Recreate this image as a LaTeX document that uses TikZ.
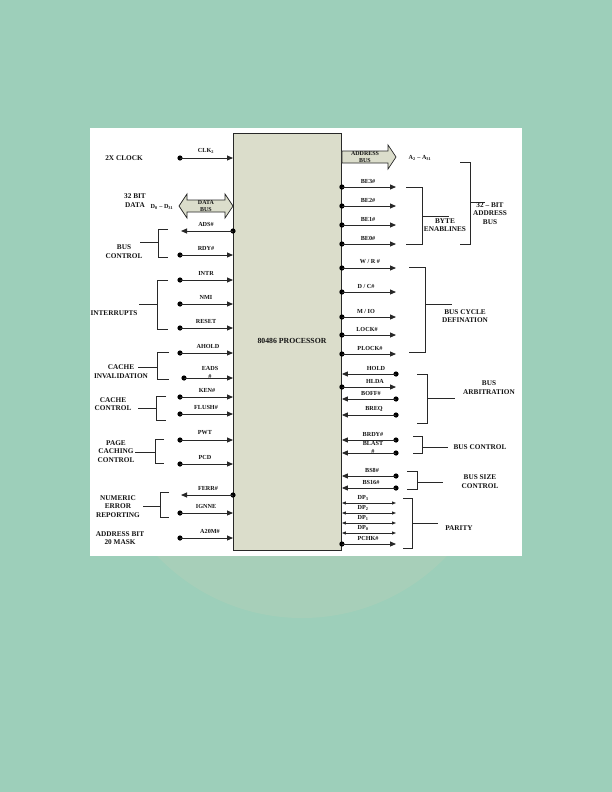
\documentclass[tikz,border=0pt]{standalone}
\usepackage{fontspec}
\setmainfont{Liberation Serif}
\usetikzlibrary{arrows.meta}
\definecolor{bgc}{RGB}{157,207,186}
\definecolor{wmc}{RGB}{167,207,185}
\definecolor{procc}{RGB}{219,221,203}
\definecolor{linec}{RGB}{40,40,40}
\definecolor{textc}{RGB}{20,20,20}
\tikzset{
  lab/.style={font=\fontsize{6.2}{6.5}\selectfont\bfseries, inner sep=0pt, text=textc},
  grp/.style={font=\fontsize{7.3}{8.5}\selectfont\bfseries, align=center, inner sep=0pt, text=textc},
  sig/.style={draw=linec, line width=0.9bp, -{Triangle[length=6bp,width=5bp]}},
  dsig/.style={draw=linec, line width=0.9bp, {Triangle[length=4bp,width=3bp]}-{Triangle[length=4bp,width=3bp]}},
  brk/.style={draw=linec, line width=0.9bp},
  pin/.style={fill=black},
  busarrow/.style={draw=linec, fill=procc, line width=0.7bp}
}
% left input pin: y, name, label, label x
\newcommand\inL[4]{%
  \coordinate (#2) at (180,#1);
  \fill[pin] (#2) circle[radius=2.6bp];
  \draw[sig] (#2) -- (#2 -| P.west);
  \node[lab] (#2l) at (#4,#1-7) {#3};}
% left output pin
\newcommand\outL[4]{%
  \coordinate (#2) at (181,#1);
  \fill[pin] (#2 -| P.west) circle[radius=2.6bp];
  \draw[sig] (#2 -| P.west) -- (#2);
  \node[lab] (#2l) at (#4,#1-7) {#3};}
% right output pin
\newcommand\outR[4]{%
  \coordinate (#2) at (396,#1);
  \fill[pin] (P.east |- #2) circle[radius=2.6bp];
  \draw[sig] (P.east |- #2) -- (#2);
  \node[lab] (#2l) at (#4,#1-6) {#3};}
% right input pin
\newcommand\inR[4]{%
  \coordinate (#2) at (396,#1);
  \fill[pin] (#2) circle[radius=2.6bp];
  \draw[sig] (#2) -- (P.east |- #2);
  \node[lab] (#2l) at (#4,#1-6) {#3};}
% bracket: x vertical, y top, y bottom, x tick end, y mid, x horizontal end
\newcommand\grpbracket[6]{%
  \draw[brk] (#4,#2) -- (#1,#2) -- (#1,#3) -- (#4,#3);
  \draw[brk] (#1,#5) -- (#6,#5);}
\begin{document}
\begin{tikzpicture}[x=1bp,y=-1bp]
\useasboundingbox (0,0) rectangle (612,792);
\fill[bgc] (0,0) rectangle (612,792);
\fill[wmc] (302,418) circle[radius=200bp];
\fill[white] (90,128) rectangle (522,556);

% processor
\node[draw=linec, line width=0.9bp, fill=procc, minimum width=108bp, minimum height=417bp, anchor=north west, inner sep=0pt] (P) at (233,133) {};
\node[font=\fontsize{7.8}{8}\selectfont\bfseries, text=textc] (Pl) at (292,341) {80486 PROCESSOR};

% data bus double arrow
\coordinate (dbL) at (179,206);
\filldraw[busarrow] (dbL) -- (187,194) -- (187,200) -- (225,200) -- (225,194) -- (P.west |- dbL) -- (225,218) -- (225,212) -- (187,212) -- (187,218) -- cycle;
\node[lab, align=center, font=\fontsize{6}{7}\selectfont\bfseries] (dbt) at (206,206) {DATA\\BUS};

% address bus arrow
\coordinate (abR) at (396,157);
\filldraw[busarrow] (P.east |- 0,151) -- (388,151) -- (388,145) -- (abR) -- (388,169) -- (388,163) -- (P.east |- 0,163) -- cycle;
\node[lab, align=center, font=\fontsize{6}{7}\selectfont\bfseries] (abt) at (365,157) {ADDRESS\\BUS};
\node[lab] (aadr) at (420,158) {A\textsubscript{2} -- A\textsubscript{31}};

% left pins
\inL{158}{clk}{CLK\textsubscript{2}}{206}
\outL{231}{ads}{ADS\#}{206}
\inL{255}{rdy}{RDY\#}{206}
\inL{280}{intr}{INTR}{206}
\inL{304}{nmi}{NMI}{206}
\inL{328}{reset}{RESET}{206}
\inL{353}{ahold}{AHOLD}{208}
\coordinate (eads) at (184,378);
\fill[pin] (eads) circle[radius=2.6bp];
\draw[sig] (eads) -- (eads -| P.west);
\node[lab, align=center, font=\fontsize{6.2}{8}\selectfont\bfseries] (eadsl) at (210,372) {EADS\\\#};
\inL{397}{ken}{KEN\#}{207}
\inL{414}{flush}{FLUSH\#}{206}
\inL{440}{pwt}{PWT}{205}
\inL{464}{pcd}{PCD}{205}
\outL{495}{ferr}{FERR\#}{208}
\inL{513}{ignne}{IGNNE}{206}
\inL{538}{a20m}{A20M\#}{210}

% left group labels
\node[grp] (g1) at (124,158) {2X CLOCK};
\node[grp] (g2) at (135,200.5) {32 BIT\\DATA};
\node[lab] (g2b) at (162,207) {D\textsubscript{0} -- D\textsubscript{31}};
\node[grp] (g3) at (124,251.5) {BUS\\CONTROL};
\node[grp] (g4) at (114,313) {INTERRUPTS};
\node[grp] (g5) at (121,371.5) {CACHE\\INVALIDATION};
\node[grp] (g6) at (113,404) {CACHE\\CONTROL};
\node[grp] (g7) at (116,451.5) {PAGE\\CACHING\\CONTROL};
\node[grp] (g8) at (118,506.5) {NUMERIC\\ERROR\\REPORTING};
\node[grp] (g9) at (120,538) {ADDRESS BIT\\20 MASK};

% left brackets
\grpbracket{158}{229}{257}{168}{242}{140}
\grpbracket{157}{280}{329}{168}{304}{139}
\grpbracket{157}{352}{379}{169}{367}{138}
\grpbracket{156}{396}{420}{166}{408}{138}
\grpbracket{155}{439}{463}{164}{452}{135}
\grpbracket{160}{492}{517}{169}{506}{143}

% right pins
\outR{187}{be3}{BE3\#}{368}
\outR{206}{be2}{BE2\#}{368}
\outR{225}{be1}{BE1\#}{368}
\outR{244}{be0}{BE0\#}{368}
\outR{268}{wr}{W / R \#}{370}
\outR{292}{dc}{D / C\#}{366}
\outR{317}{mio}{M / IO}{366}
\outR{335}{lock}{LOCK\#}{367}
\outR{354}{plock}{PLOCK\#}{370}
\inR{374}{hold}{HOLD}{376}
\outR{387}{hlda}{HLDA}{375}
\inR{399}{boff}{BOFF\#}{371}
\inR{415}{breq}{BREQ}{374}
\inR{440}{brdy}{BRDY\#}{373}
\coordinate (blast) at (396,453);
\fill[pin] (blast) circle[radius=2.6bp];
\draw[sig] (blast) -- (P.east |- blast);
\node[lab, align=center, font=\fontsize{6.2}{8}\selectfont\bfseries] (blastl) at (373,447) {BLAST\\\#};
\inR{476}{bs8}{BS8\#}{372}
\inR{488}{bs16}{BS16\#}{371}
\foreach \dpy/\dpname/\dpnum in {503/dpa/3, 513/dpb/2, 523/dpc/1, 533/dpd/0}{
  \coordinate (\dpname) at (396,\dpy);
  \draw[dsig] (P.east |- \dpname) -- (\dpname);
  \node[lab] (\dpname l) at (363,\dpy-5.5) {DP\textsubscript{\dpnum}};
}
\outR{544}{pchk}{PCHK\#}{368}

% right brackets
\grpbracket{422}{187}{244}{406}{216}{449}
\grpbracket{470}{162}{244}{460}{202}{485}
\grpbracket{425}{267}{352}{409}{304}{452}
\grpbracket{427}{374}{423}{417}{398}{455}
\grpbracket{422}{436}{453}{413}{447}{448}
\grpbracket{417}{471}{489}{407}{482}{443}
\grpbracket{412}{498}{548}{403}{523}{438}

% right group labels
\node[grp, font=\fontsize{7.3}{7.8}\selectfont\bfseries] (r1) at (445,225.5) {BYTE\\ENABLINES};
\node[grp] (r2) at (490,213.5) {32 -- BIT\\ADDRESS\\BUS};
\node[grp] (r3) at (465,316) {BUS CYCLE\\DEFINATION};
\node[grp] (r4) at (489,387.5) {BUS\\ARBITRATION};
\node[grp] (r5) at (480,447) {BUS CONTROL};
\node[grp] (r6) at (480,481.5) {BUS SIZE\\CONTROL};
\node[grp] (r7) at (459,528) {PARITY};
\end{tikzpicture}
\end{document}
